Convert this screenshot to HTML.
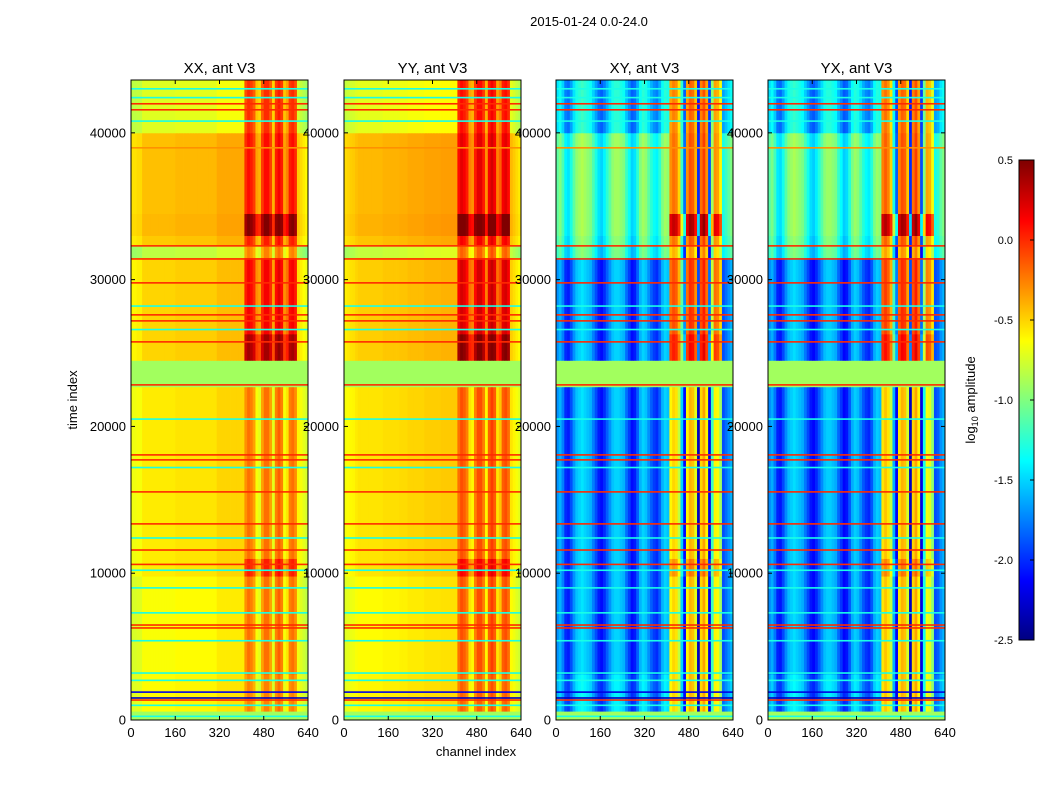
<!DOCTYPE html>
<html><head><meta charset="utf-8">
<style>
body{margin:0;background:#fff;}
svg text{font-family:"Liberation Sans",sans-serif;fill:#000;}
</style></head>
<body>
<svg id="fig" width="1050" height="800" xmlns="http://www.w3.org/2000/svg">
<rect width="1050" height="800" fill="#fff"/>
<text x="589" y="26" font-size="13" text-anchor="middle">2015-01-24 0.0-24.0</text>
<text transform="translate(77,400) rotate(-90)" font-size="13" text-anchor="middle">time index</text>
<text x="476" y="756" font-size="13" text-anchor="middle">channel index</text>
<text transform="translate(975,400) rotate(-90)" font-size="13" text-anchor="middle">log<tspan font-size="9" dy="3">10</tspan><tspan dy="-3"> amplitude</tspan></text>
<g id="panels"></g>
<g id="cbar"></g>
</svg>
<script>
// ---- data ----
const panelTitles = ["XX, ant V3","YY, ant V3","XY, ant V3","YX, ant V3"];
const panelKinds = ["auto","auto","cross","cross"];
const chanBinWidth = 10;
const xxProfile = [-0.62,-0.62,-0.6,-0.6,-0.52,-0.52,-0.52,-0.52,-0.52,-0.52,-0.52,-0.52,-0.52,-0.52,-0.52,-0.52,-0.5,-0.5,-0.5,-0.5,-0.5,-0.5,-0.5,-0.5,-0.5,-0.5,-0.5,-0.5,-0.5,-0.5,-0.5,-0.45,-0.45,-0.45,-0.45,-0.45,-0.45,-0.45,-0.45,-0.45,-0.45,
 -0.05,0.05,0.0,-0.1,-0.4,-0.45,-0.1,0.05,0.05,-0.1,-0.45,0.0,0.1,0.0,-0.4,-0.3,0.0,0.05,-0.05,-0.55,-0.6,-0.65,-0.7];
const yyProfile = [-0.6,-0.58,-0.56,-0.55,-0.52,-0.5,-0.5,-0.5,-0.5,-0.5,-0.5,-0.5,-0.5,-0.5,-0.48,-0.48,-0.48,-0.48,-0.48,-0.48,-0.47,-0.47,-0.47,-0.45,-0.45,-0.45,-0.45,-0.45,-0.45,-0.43,-0.43,-0.43,-0.43,-0.43,-0.43,-0.42,-0.42,-0.42,-0.42,-0.42,-0.42,
 0.05,0.15,0.1,0.0,-0.3,-0.35,0.0,0.15,0.15,0.0,-0.35,0.1,0.2,0.1,-0.3,-0.2,0.1,0.15,0.05,-0.5,-0.55,-0.6,-0.65];
const xyProfile = [-1.7,-1.6,-1.75,-2.0,-2.05,-1.9,-1.7,-1.55,-1.5,-1.45,-1.5,-1.55,-1.6,-1.75,-1.9,-2.05,-2.1,-2.0,-1.85,-1.7,-1.55,-1.5,-1.5,-1.55,-1.6,-1.8,-1.95,-2.1,-2.05,-1.85,-1.6,-1.5,-1.55,-1.7,-1.85,-1.95,-2.0,-1.85,-1.6,-1.5,-1.55,
 -0.3,-0.2,-0.25,-0.5,-1.2,-1.8,-0.3,-0.1,-0.15,-0.4,-2.0,-0.2,-0.05,-0.3,-1.9,-0.9,-0.3,-0.35,-0.6,-1.9,-1.8,-1.7,-1.6];
const yxProfile = [-1.72,-1.62,-1.78,-2.03,-2.07,-1.92,-1.72,-1.57,-1.52,-1.47,-1.52,-1.57,-1.62,-1.77,-1.92,-2.07,-2.12,-2.02,-1.87,-1.72,-1.57,-1.52,-1.52,-1.57,-1.62,-1.82,-1.97,-2.12,-2.07,-1.87,-1.62,-1.52,-1.57,-1.72,-1.87,-1.97,-2.02,-1.87,-1.62,-1.52,-1.57,
 -0.25,-0.15,-0.25,-0.5,-1.3,-1.85,-0.25,-0.1,-0.15,-0.45,-2.0,-0.2,-0.05,-0.3,-1.9,-1.0,-0.35,-0.4,-0.65,-1.9,-1.85,-1.7,-1.6];
const rfiStartBin = 41, rfiEndBin = 59;
// time bands
const bandStart = [0,600,3100,9800,11000,22700,24500,26300,31500,32300,33000,34500,40000];
const bandEnd   = [600,3100,9800,11000,22700,24500,26300,31500,32300,33000,34500,40000,43600];
const bandFlag  = [1,0,0,0,0,1,0,0,0,0,0,0,0];
const autoBase  = [0,-0.1,-0.12,-0.05,-0.05,0,0.02,0.02,-0.3,0.05,0.1,0.08,-0.2];
const autoRfi   = [0,-0.3,-0.25,0.0,-0.25,0,0.35,0.1,-0.3,0.0,0.45,0.05,-0.05];
const crossBase = [0,0.1,0,0,0,0,0,0,0.5,0.55,0.6,0.6,0.25];
const crossRfi  = [0,-0.3,-0.3,-0.1,-0.3,0,0.25,0.1,-0.2,0.0,0.5,0.0,-0.05];
const flagValue = -0.9;
// horizontal RFI lines
const lineTimes = [1360,1900,1500,250,1000,2700,3200,5400,6270,6470,7300,9000,10200,10600,11580,12400,13360,15540,17200,17720,18060,20500,22830,25760,26600,27190,27600,28200,29780,31410,32300,38980,40800,41570,41980,42400,43000];
const lineVals  = [0.0,-2.2,-2.3,-1.3,-1.3,-1.3,-1.3,-1.3,0.0,0.0,-1.3,-1.3,-1.3,0.0,0.0,-1.3,0.0,0.0,-1.3,0.0,0.0,-1.3,0.0,0.0,-1.3,0.0,0.0,-1.3,0.0,0.0,0.0,-0.3,-1.3,0.0,0.0,-1.3,-1.3];
const yTicks = [0,10000,20000,30000,40000];
const xTicks = [0,160,320,480,640];
const cbTicks = [0.5,0.0,-0.5,-1.0,-1.5,-2.0,-2.5];

// ---- drawing ----
const NS="http://www.w3.org/2000/svg";
const panelLeft=[131,344,556,768], panelW=177, pTop=80, pBottom=720;
const tMax=43600, cMax=640, vMin=-2.5, vMax=0.5;
function jet(v){let t=(v-vMin)/(vMax-vMin);t=Math.max(0,Math.min(1,t));
 const c=x=>Math.round(255*Math.max(0,Math.min(1,x)));
 return `rgb(${c(1.5-Math.abs(4*t-3))},${c(1.5-Math.abs(4*t-2))},${c(1.5-Math.abs(4*t-1))})`;}
function el(tag,attrs,parent){const e=document.createElementNS(NS,tag);for(const k in attrs)e.setAttribute(k,attrs[k]);parent.appendChild(e);return e;}
const yS=t=>pBottom-(t/tMax)*(pBottom-pTop);
const profiles=[xxProfile,yyProfile,xyProfile,yxProfile];
const G=document.getElementById('panels');
for(let p=0;p<4;p++){
 const x0=panelLeft[p], xS=c=>x0+(c/cMax)*panelW;
 const g=el('g',{},G);
 
 
 const prof=profiles[p], cross=panelKinds[p]==='cross';
 for(let b=0;b<bandStart.length;b++){
  const y1=yS(bandEnd[b]), y2=yS(bandStart[b]);
  for(let c=0;c<prof.length;c++){
   let v;
   if(bandFlag[b]) v=flagValue;
   else{const rfi=c>=rfiStartBin&&c<=rfiEndBin;
    v=prof[c]+(cross?(rfi?crossRfi[b]:crossBase[b]):(rfi?autoRfi[b]:autoBase[b]));}
   const r=el('rect',{x:xS(c*chanBinWidth),y:y1,width:xS((c+1)*chanBinWidth)-xS(c*chanBinWidth)+0.4,height:y2-y1+0.4,fill:jet(v)},g);
   
   
  }
 }
 for(let i=0;i<lineTimes.length;i++){
  const r=el('rect',{x:x0,y:yS(lineTimes[i])-0.8,width:panelW,height:1.6,fill:jet(lineVals[i])},g);
  
  
 }
 const fr=el('rect',{x:x0,y:pTop,width:panelW,height:pBottom-pTop,fill:'none',stroke:'#000','stroke-width':1},g);
 
 
 const tt=el('text',{x:x0+panelW/2,y:73,'font-size':15,'text-anchor':'middle'},g);tt.textContent=panelTitles[p];
 
 
 yTicks.forEach(t=>{const y=yS(t);
  el('line',{x1:x0,x2:x0+4,y1:y,y2:y,stroke:'#000'},g);el('line',{x1:x0+panelW,x2:x0+panelW-4,y1:y,y2:y,stroke:'#000'},g);
  const l=el('text',{x:x0-5,y:y+4.5,'font-size':13,'text-anchor':'end'},g);l.textContent=t;
  
  });
 xTicks.forEach(t=>{const x=xS(t);
  el('line',{x1:x,x2:x,y1:pBottom,y2:pBottom-4,stroke:'#000'},g);el('line',{x1:x,x2:x,y1:pTop,y2:pTop+4,stroke:'#000'},g);
  const l=el('text',{x:x,y:737,'font-size':13,'text-anchor':'middle'},g);l.textContent=t;
  
  });
}
// colorbar
const CB=document.getElementById('cbar');


const cbTop=160,cbBot=640,cbX=1019,cbW=15;
const cbY=v=>cbBot-(v-vMin)/(vMax-vMin)*(cbBot-cbTop);
for(let i=0;i<240;i++){const v=vMin+(i+0.5)/240*(vMax-vMin);
 el('rect',{x:cbX,y:cbY(vMin+(i+1)/240*(vMax-vMin)),width:cbW,height:(cbBot-cbTop)/240+0.5,fill:jet(v)},CB);}
el('rect',{x:cbX,y:cbTop,width:cbW,height:cbBot-cbTop,fill:'none',stroke:'#000'},CB);
cbTicks.forEach(v=>{const y=cbY(v);
 el('line',{x1:cbX+cbW-4,x2:cbX+cbW,y1:y,y2:y,stroke:'#000'},CB);
 const l=el('text',{x:1013,y:y+4,'font-size':11,'text-anchor':'end'},CB);l.textContent=v.toFixed(1);
 
 });
</script>
</body></html>
